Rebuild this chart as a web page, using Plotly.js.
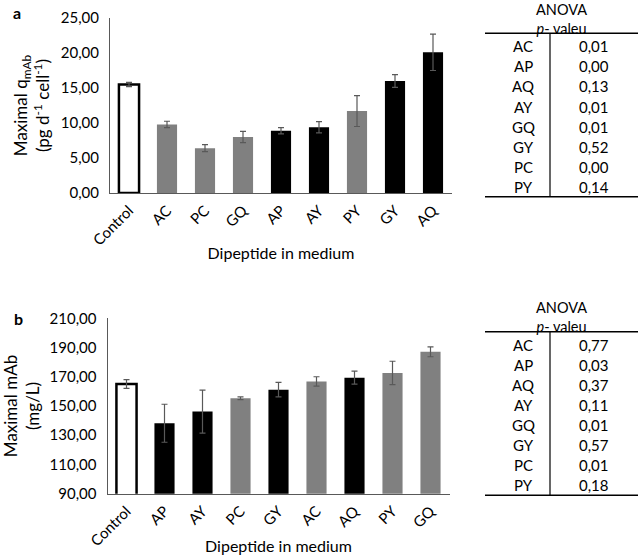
<!DOCTYPE html>
<html>
<head>
<meta charset="utf-8">
<script src="https://cdn.plot.ly/plotly-3.0.1.min.js"></script>
<style>html,body{margin:0;padding:0;background:#fff;}#chart{width:638px;height:555px;}</style>
</head>
<body>
<div id="chart"></div>
<script>
// ---- Data ----
const categoriesA = ['Control','AC','PC','GQ','AP','AY','PY','GY','AQ'];
const valuesA = [15.5, 9.8, 6.4, 8.0, 8.9, 9.4, 11.7, 16.0, 20.1];
const errorsA = [0.3, 0.45, 0.5, 0.8, 0.45, 0.8, 2.2, 0.9, 2.6];
const groupsA = ['control','grey','grey','grey','black','black','grey','black','black'];

const categoriesB = ['Control','AP','AY','PC','GY','AC','AQ','PY','GQ'];
const valuesB = [165.0, 138.2, 146.2, 155.3, 161.2, 166.8, 169.4, 172.6, 187.1];
const errorsB = [3.0, 13.0, 14.7, 1.0, 5.0, 3.2, 4.4, 8.0, 3.4];
const groupsB = ['control','black','black','grey','black','grey','black','grey','grey'];

const anovaDipeptidesA = ['AC','AP','AQ','AY','GQ','GY','PC','PY'];
const anovaPA = [0.01, 0.00, 0.13, 0.01, 0.01, 0.52, 0.00, 0.14];
const anovaDipeptidesB = ['AC','AP','AQ','AY','GQ','GY','PC','PY'];
const anovaPB = [0.77, 0.03, 0.37, 0.11, 0.01, 0.57, 0.01, 0.18];

// ---- Styling ----
const W = 638, H = 555;
const FONT = 'Lato, sans-serif';
const fill = {control:'#ffffff', grey:'#808080', black:'#000000'};
const px = x => x / W;
const py = y => 1 - y / H;
const fmt = v => v.toFixed(2).replace('.', ',');

function barTrace(cats, vals, errs, groups, xa, ya) {
  return {
    type:'bar', x:cats, y:vals, xaxis:xa, yaxis:ya,
    marker:{color:groups.map(g=>fill[g]),
            line:{color:'#000', width:groups.map(g=>g==='control'?2.5:0)}},
    error_y:{type:'data', array:errs, visible:true, color:'#595959', thickness:1.2, width:3},
    showlegend:false, hoverinfo:'x+y'
  };
}

const data = [
  barTrace(categoriesA, valuesA, errorsA, groupsA, 'x', 'y'),
  barTrace(categoriesB, valuesB, errorsB, groupsB, 'x2', 'y2')
];

function xAxis(domain, anchor) {
  return {domain:domain, anchor:anchor, type:'category',
    showgrid:false, zeroline:false, showline:true, linecolor:'#595959', linewidth:1,
    tickangle:-45, ticks:'outside', ticklen:2, tickcolor:'rgba(0,0,0,0)',
    tickfont:{family:FONT, size:15, color:'#000'},
    title:{text:'Dipeptide in medium', font:{family:FONT, size:16, color:'#000'}, standoff:0}};
}
function yAxis(domain, anchor, range, dtick, title) {
  return {domain:domain, anchor:anchor, range:range, tick0:range[0], dtick:dtick, tickformat:'.2f',
    showgrid:false, zeroline:false, showline:true, linecolor:'#595959', linewidth:1,
    ticks:'outside', ticklen:7, tickcolor:'rgba(0,0,0,0)',
    tickfont:{family:FONT, size:15, color:'#000'},
    title:{text:title, font:{family:FONT, size:17, color:'#000'}, standoff:6}};
}

const shapes = [];
const annotations = [];

function table(names, pvals, dy) {
  const left = 485, right = 638, vx = 550;
  const top = 33.3 + dy, bottom = 196.7 + dy;
  const f = {family:FONT, size:15, color:'#000'};
  annotations.push({xref:'paper', yref:'paper', x:px(561), y:py(dy), text:'ANOVA<br><i>p</i>- valeu', showarrow:false,
    font:{family:FONT, size:14.5, color:'#000'}, xanchor:'center', yanchor:'top', align:'center', borderpad:0});
  shapes.push({type:'line', xref:'paper', yref:'paper', x0:px(left), x1:px(right), y0:py(top), y1:py(top), line:{color:'#000', width:1.5}});
  shapes.push({type:'line', xref:'paper', yref:'paper', x0:px(left), x1:px(right), y0:py(bottom), y1:py(bottom), line:{color:'#000', width:1.5}});
  shapes.push({type:'line', xref:'paper', yref:'paper', x0:px(vx), x1:px(vx), y0:py(top), y1:py(bottom), line:{color:'#000', width:1.2}});
  names.forEach((n, i) => {
    const yc = 46.3 + dy + i * 20.1;
    annotations.push({xref:'paper', yref:'paper', x:px(523), y:py(yc), text:n, showarrow:false,
      font:f, xanchor:'center', yanchor:'middle'});
    annotations.push({xref:'paper', yref:'paper', x:px(594), y:py(yc), text:fmt(pvals[i]), showarrow:false,
      font:f, xanchor:'center', yanchor:'middle'});
  });
}
table(anovaDipeptidesA, anovaPA, 0);
table(anovaDipeptidesB, anovaPB, 298.5);

annotations.push({xref:'paper', yref:'paper', x:px(11), y:py(12), text:'<b>a</b>', showarrow:false,
  font:{family:FONT, size:16, color:'#000'}, xanchor:'left', yanchor:'middle'});
annotations.push({xref:'paper', yref:'paper', x:px(12), y:py(318), text:'<b>b</b>', showarrow:false,
  font:{family:FONT, size:16, color:'#000'}, xanchor:'left', yanchor:'middle'});

const layout = {
  width:W, height:H, margin:{l:0, r:0, t:0, b:0},
  paper_bgcolor:'#fff', plot_bgcolor:'#fff',
  separators:', ',
  bargap:0.47,
  font:{family:FONT, color:'#000'},
  xaxis:xAxis([px(110), px(452)], 'y'),
  yaxis:yAxis([py(193), py(18)], 'x', [0,25], 5, 'Maximal q<sub>mAb</sub><br>(pg d<sup>-1</sup> cell<sup>-1</sup>)'),
  xaxis2:xAxis([px(107.5), px(449.5)], 'y2'),
  yaxis2:yAxis([py(493.7), py(318.3)], 'x2', [90,210], 20, 'Maximal mAb<br>(mg/L)'),
  shapes:shapes,
  annotations:annotations
};

Plotly.newPlot('chart', data, layout, {displayModeBar:false});
</script>
</body>
</html>
